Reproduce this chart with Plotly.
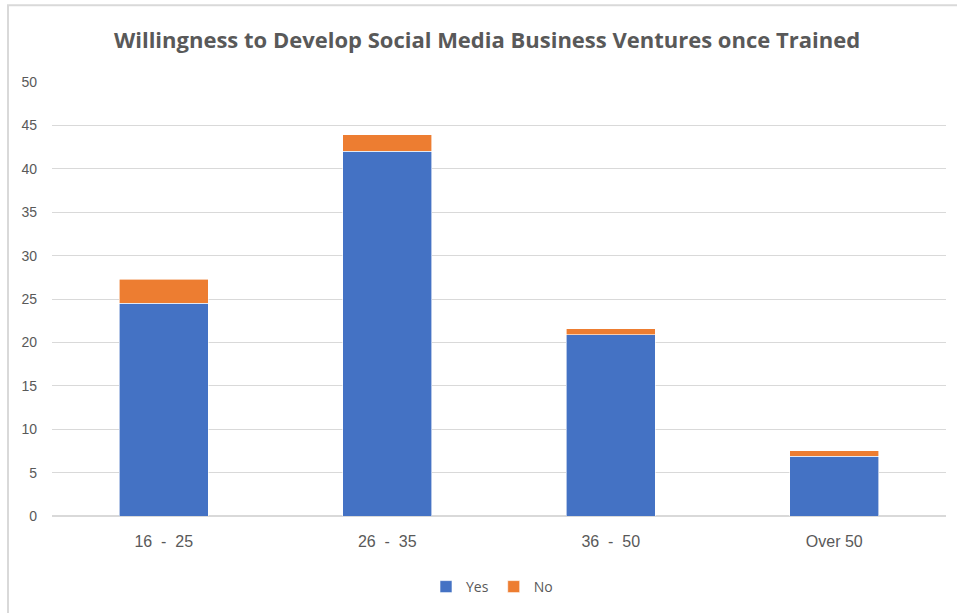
import plotly.graph_objects as go

categories = ["16  -  25", "26  -  35", "36  -  50", "Over 50"]
yes_values = [24.5, 42.0, 20.9, 6.9]
no_values = [2.8, 1.9, 0.7, 0.6]
y_ticks = [0, 5, 10, 15, 20, 25, 30, 35, 40, 45, 50]

W, H = 957, 613
L, R, T, B = 52, 11, 82, 96
pw, ph = W - L - R, H - T - B

def px_x(x):
    return (x - L) / pw

def px_y(y):
    return (H - B - y) / ph

fig = go.Figure()
fig.add_trace(go.Bar(name="Yes", x=categories, y=yes_values,
                     marker=dict(color="#4472C4", line=dict(color="#ffffff", width=0.6))))
fig.add_trace(go.Bar(name="No", x=categories, y=no_values,
                     marker=dict(color="#ED7D31", line=dict(color="#ffffff", width=0.6))))

fig.update_layout(
    barmode="stack",
    bargap=0.6,
    width=W, height=H,
    margin=dict(l=L, r=R, t=T, b=B),
    paper_bgcolor="white",
    plot_bgcolor="white",
    title=dict(text="<b>Willingness to Develop Social Media Business Ventures once Trained</b>",
               x=px_x(487), xanchor="center", xref="paper", y=1 - 40 / H, yanchor="middle",
               font=dict(family="Open Sans, sans-serif", size=22, color="#595959")),
    font=dict(family="Liberation Sans, Arial, sans-serif", size=14, color="#595959"),
    xaxis=dict(showgrid=False, showline=False, ticks="", tickfont=dict(size=16, color="#595959"),
               ticklabelstandoff=14),
    yaxis=dict(range=[0, 50], tickvals=y_ticks, showgrid=True, gridcolor="#d9d9d9", gridwidth=1,
               zeroline=True, zerolinecolor="#d9d9d9", zerolinewidth=1.5,
               ticks="", tickfont=dict(size=14, color="#595959"), ticklabelstandoff=14),
    legend=dict(orientation="h", x=px_x(492), xanchor="center", y=px_y(587), yanchor="middle",
                font=dict(family="Open Sans, sans-serif", size=14, color="#595959"),
                itemwidth=30, traceorder="normal"),
    shapes=[dict(type="rect", xref="paper", yref="paper",
                 x0=px_x(8), x1=px_x(962), y0=px_y(618), y1=px_y(5),
                 line=dict(color="#d9d9d9", width=2), fillcolor="rgba(0,0,0,0)", layer="below")],
)

fig.write_html("out.html")
